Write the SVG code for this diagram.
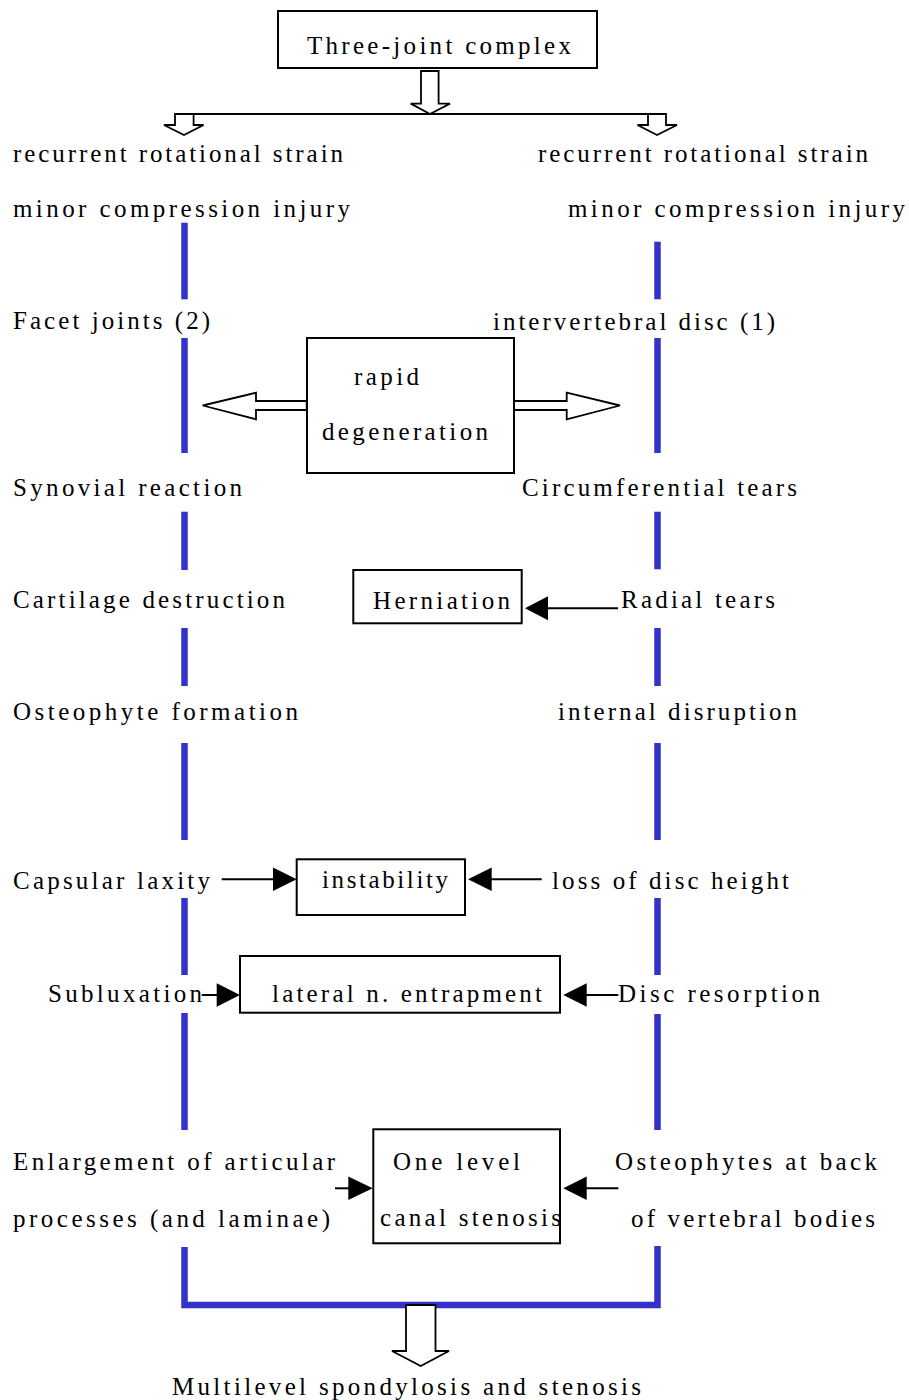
<svg xmlns="http://www.w3.org/2000/svg" width="909" height="1400" viewBox="0 0 909 1400">
<style>
.box{fill:#fff;stroke:#000;stroke-width:2;}
.blk{fill:#fff;stroke:#000;stroke-width:1.8;stroke-linejoin:miter;}
.blue{stroke:#3333CC;stroke-width:6.5;fill:none;}
.ln{stroke:#000;stroke-width:2;fill:none;}
.head{fill:#000;stroke:none;}
</style>
<rect width="909" height="1400" fill="#fff"/>
<g id="connectors">
  <line class="ln" x1="175" y1="114" x2="666" y2="114"/>
  <polygon class="blk" points="421,71 438.6,71 438.6,103.6 450,103.6 430,114 410.7,103.6 421,103.6"/>
  <polygon class="blk" points="175,114 193.6,114 193.6,125 203.6,125 184,135 164,125 175,125"/>
  <polygon class="blk" points="648,114 666,114 666,125 677,125 657,135 637.5,125 648,125"/>
  <g class="blue">
    <line x1="184.5" y1="222.7" x2="184.5" y2="299.3"/>
    <line x1="184.5" y1="338" x2="184.5" y2="453"/>
    <line x1="184.5" y1="511.7" x2="184.5" y2="570"/>
    <line x1="184.5" y1="628" x2="184.5" y2="686"/>
    <line x1="184.5" y1="743" x2="184.5" y2="840"/>
    <line x1="184.5" y1="898" x2="184.5" y2="975"/>
    <line x1="184.5" y1="1013" x2="184.5" y2="1130"/>
    <line x1="657.5" y1="241.7" x2="657.5" y2="299.3"/>
    <line x1="657.5" y1="338" x2="657.5" y2="453"/>
    <line x1="657.5" y1="511.7" x2="657.5" y2="569.3"/>
    <line x1="657.5" y1="628" x2="657.5" y2="686"/>
    <line x1="657.5" y1="743" x2="657.5" y2="840"/>
    <line x1="657.5" y1="898" x2="657.5" y2="975"/>
    <line x1="657.5" y1="1014" x2="657.5" y2="1130"/>
    <polyline points="184.5,1247 184.5,1305 657.5,1305 657.5,1246"/>
  </g>
  <polygon class="blk" points="306.7,401 256,401 256,392.7 202.7,405.5 256,419.3 256,410 306.7,410"/>
  <polygon class="blk" points="514,401 566.7,401 566.7,392.7 620,405.5 566.7,419.3 566.7,410 514,410"/>
  <line class="ln" x1="618" y1="608.3" x2="545" y2="608.3"/>
  <polygon class="head" points="525,608.3 548,596.3 548,620.3"/>
  <line class="ln" x1="221.7" y1="879.3" x2="276" y2="879.3"/>
  <polygon class="head" points="296.7,879.3 273,867.6 273,891"/>
  <line class="ln" x1="541.7" y1="879.3" x2="489" y2="879.3"/>
  <polygon class="head" points="468,879.3 491.7,867.6 491.7,891"/>
  <line class="ln" x1="201.7" y1="995" x2="220" y2="995"/>
  <polygon class="head" points="240,995 216.7,983.3 216.7,1006.7"/>
  <line class="ln" x1="618.3" y1="995" x2="584" y2="995"/>
  <polygon class="head" points="563.3,995 586.7,983.3 586.7,1006.7"/>
  <line class="ln" x1="335" y1="1188.3" x2="351" y2="1188.3"/>
  <polygon class="head" points="372.7,1188.3 348.3,1176.6 348.3,1200"/>
  <line class="ln" x1="618.3" y1="1188.3" x2="584" y2="1188.3"/>
  <polygon class="head" points="563.3,1188.3 586.7,1176.6 586.7,1200"/>
  <polygon class="blk" points="406,1305 435.5,1305 435.5,1351 449,1351 420.7,1366 392,1351 406,1351"/>
</g>
<g font-family="Liberation Serif, Times New Roman, serif" font-size="25" fill="#000">
<g id="n-three-joint"><rect class="box" x="278" y="11" width="319" height="57"/><text x="307" y="53.6" textLength="264">Three-joint complex</text></g>
<g id="n-left-strain"><text x="13" y="161.7" textLength="330">recurrent rotational strain</text></g>
<g id="n-left-injury"><text x="13" y="217.3" textLength="337">minor compression injury</text></g>
<g id="n-right-strain"><text x="538" y="161.7" textLength="330">recurrent rotational strain</text></g>
<g id="n-right-injury"><text x="568" y="217.3" textLength="337">minor compression injury</text></g>
<g id="n-facet"><text x="13" y="329.3" textLength="197">Facet joints (2)</text></g>
<g id="n-disc"><text x="493" y="330" textLength="282">intervertebral disc (1)</text></g>
<g id="n-rapid"><rect class="box" x="307" y="338" width="207" height="135"/><text x="354" y="385" textLength="65">rapid</text><text x="322" y="440" textLength="166">degeneration</text></g>
<g id="n-synovial"><text x="13" y="496" textLength="229">Synovial reaction</text></g>
<g id="n-circum"><text x="522" y="496" textLength="275">Circumferential tears</text></g>
<g id="n-cartilage"><text x="13" y="608.3" textLength="272">Cartilage destruction</text></g>
<g id="n-herniation"><rect class="box" x="353.3" y="570" width="168.4" height="53.3"/><text x="373" y="609" textLength="137">Herniation</text></g>
<g id="n-radial"><text x="621" y="608.3" textLength="154">Radial tears</text></g>
<g id="n-osteophyte"><text x="13" y="720" textLength="285">Osteophyte formation</text></g>
<g id="n-internal"><text x="558" y="720" textLength="239">internal disruption</text></g>
<g id="n-capsular"><text x="13" y="889.3" textLength="197">Capsular laxity</text></g>
<g id="n-instability"><rect class="box" x="296.7" y="859.3" width="168.3" height="55.7"/><text x="322" y="888.3" textLength="126">instability</text></g>
<g id="n-loss"><text x="552" y="889.3" textLength="237">loss of disc height</text></g>
<g id="n-subluxation"><text x="48" y="1001.7" textLength="154">Subluxation</text></g>
<g id="n-lateral"><rect class="box" x="240" y="956" width="320" height="56.7"/><text x="272" y="1001.7" textLength="270">lateral n. entrapment</text></g>
<g id="n-resorption"><text x="618" y="1001.7" textLength="202">Disc  resorption</text></g>
<g id="n-enlargement"><text x="13" y="1170" textLength="322">Enlargement of articular</text><text x="13" y="1226.7" textLength="317">processes (and laminae)</text></g>
<g id="n-onelevel"><rect class="box" x="373.3" y="1129.3" width="186.7" height="114"/><text x="393" y="1170" textLength="127">One level</text><text x="380" y="1226" textLength="181">canal stenosis</text></g>
<g id="n-osteophytes-back"><text x="615" y="1170" textLength="262">Osteophytes at back</text><text x="631" y="1226.7" textLength="244">of vertebral bodies</text></g>
<g id="n-multilevel"><text x="172" y="1395" textLength="469">Multilevel spondylosis and stenosis</text></g>
</g>
</svg>
